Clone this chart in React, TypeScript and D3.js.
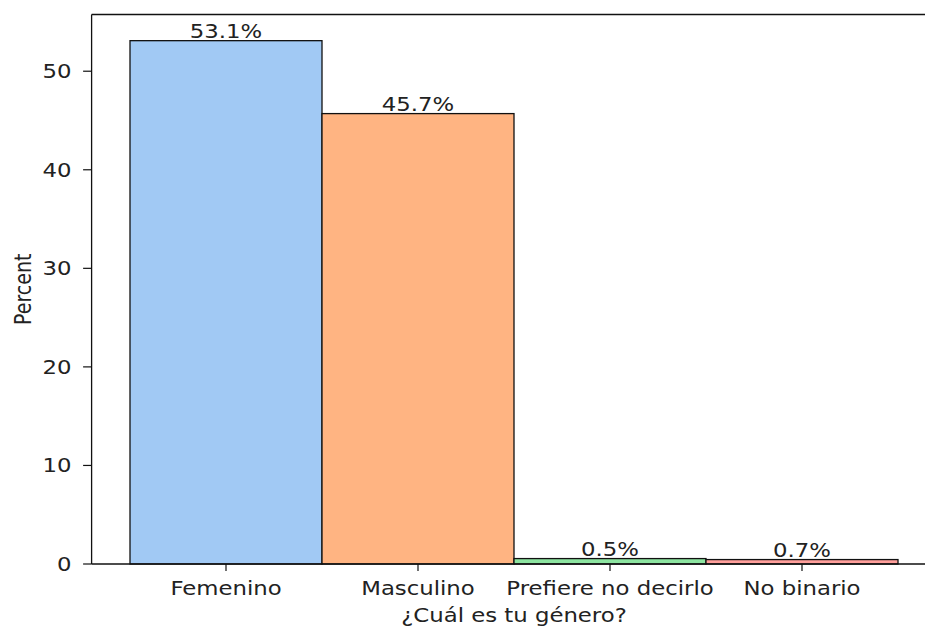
import React from "react";
import * as d3 from "d3";

const categories = ["Femenino", "Masculino", "Prefiere no decirlo", "No binario"];
const percentValues = [53.1, 45.7, 0.55, 0.45];
const barLabels = ["53.1%", "45.7%", "0.5%", "0.7%"];
const barColors = ["#a1c9f4", "#ffb482", "#8de5a1", "#ff9f9b"];
const yTicks = [0, 10, 20, 30, 40, 50];
const xTitle = "¿Cuál es tu género?";
const yTitle = "Percent";

const W = 925;
const H = 628;
const left = 91.6;
const right = 936.4;
const top = 14.5;
const bottom = 564;
const SX = 1.2;
const FONT = "DejaVu Sans, sans-serif";
const FS = 19;
const TXT = "#222";

function Txt({ x, y, anchor = "middle", rotate = 0, children }: any) {
  return (
    <text
      transform={`translate(${x},${y}) scale(${SX},1) rotate(${rotate})`}
      textAnchor={anchor}
      fontFamily={FONT}
      fontSize={FS}
      fill={TXT}
    >
      {children}
    </text>
  );
}

export default function App() {
  const x = d3
    .scaleBand<string>()
    .domain(categories)
    .range([left, right])
    .paddingInner(0)
    .paddingOuter(0.2);
  const y = d3
    .scaleLinear()
    .domain([0, (d3.max(percentValues) as number) * 1.05])
    .range([bottom, top]);

  return (
    <svg
      width={W}
      height={H}
      style={{ position: "absolute", left: 0, top: 0, background: "#fff" }}
    >
      <rect x={0} y={0} width={W} height={H} fill="#fff" />
      {categories.map((c, i) => (
        <rect
          key={c}
          x={x(c)}
          y={y(percentValues[i])}
          width={x.bandwidth()}
          height={y(0) - y(percentValues[i])}
          fill={barColors[i]}
          stroke="#111"
          strokeWidth={1.3}
        />
      ))}
      {categories.map((c, i) => (
        <Txt key={"l" + c} x={(x(c) as number) + x.bandwidth() / 2} y={y(percentValues[i]) - 2.5}>
          {barLabels[i]}
        </Txt>
      ))}
      {/* spines */}
      <line x1={left} x2={left} y1={top} y2={bottom} stroke="#111" strokeWidth={1.3} />
      <line x1={left} x2={right} y1={top} y2={top} stroke="#111" strokeWidth={1.3} />
      <line x1={left} x2={right} y1={bottom} y2={bottom} stroke="#111" strokeWidth={1.3} />
      <line x1={right} x2={right} y1={top} y2={bottom} stroke="#111" strokeWidth={1.3} />
      {/* y ticks */}
      {yTicks.map((t) => (
        <g key={"y" + t}>
          <line x1={left - 8.5} x2={left} y1={y(t)} y2={y(t)} stroke="#111" strokeWidth={1.2} />
          <Txt x={left - 20} y={y(t) + 7} anchor="end">
            {t}
          </Txt>
        </g>
      ))}
      {/* x ticks */}
      {categories.map((c) => {
        const cx = (x(c) as number) + x.bandwidth() / 2;
        return (
          <g key={"x" + c}>
            <line x1={cx} x2={cx} y1={bottom} y2={bottom + 7} stroke="#111" strokeWidth={1.2} />
            <Txt x={cx} y={594.5}>
              {c}
            </Txt>
          </g>
        );
      })}
      <Txt x={(left + right) / 2} y={622}>
        {xTitle}
      </Txt>
      <Txt x={31} y={(top + bottom) / 2} rotate={-90}>
        {yTitle}
      </Txt>
    </svg>
  );
}
